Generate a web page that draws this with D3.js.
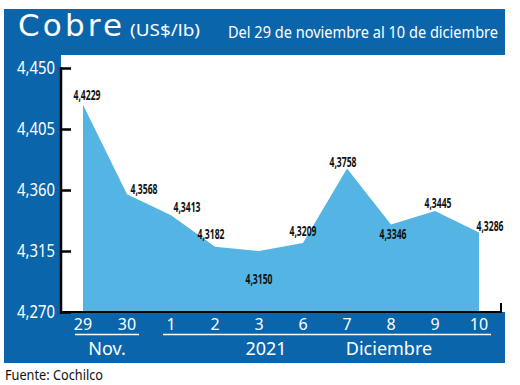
<!DOCTYPE html>
<html>
<head>
<meta charset="utf-8">
<script src="https://cdn.jsdelivr.net/npm/d3@7"></script>
<style>
  body { margin: 0; background: #fff; }
  svg { display: block; }
  text { font-family: "Noto Sans", "Open Sans", sans-serif; }
</style>
</head>
<body>
<div id="chart"></div>
<script>
// data
var days = ["29", "30", "1", "2", "3", "6", "7", "8", "9", "10"];
var prices = [4.4229, 4.3568, 4.3413, 4.3182, 4.3150, 4.3209, 4.3758, 4.3346, 4.3445, 4.3286];
var priceLabels = ["4,4229", "4,3568", "4,3413", "4,3182", "4,3150", "4,3209", "4,3758", "4,3346", "4,3445", "4,3286"];
var yTicks = [4.270, 4.315, 4.360, 4.405, 4.450];
var yTickLabels = ["4,270", "4,315", "4,360", "4,405", "4,450"];
var months = [
    { name: "Nov.", from: "29", to: "30" },
    { name: "2021", from: "1", to: "10" }
];

// where each value label sits relative to its point [dx, dy]
var labelOffsets = [[4, -5], [17, 0], [16, -3], [-4, -8], [0, 33], [0, -7], [-4, -2], [2, 15], [3, -3], [11, -2]];

var W = 520, H = 385;
var blue = "#0b65ab", fillBlue = "#54b4e3";

var svg = d3.select("#chart").append("svg")
    .attr("width", W)
    .attr("height", H);

// frame
svg.append("rect")
    .attr("x", 4).attr("y", 9)
    .attr("width", 501).attr("height", 354)
    .attr("fill", blue);

svg.append("rect")
    .attr("x", 61).attr("y", 55)
    .attr("width", 459).attr("height", 257)
    .attr("fill", "#fff");

var x = d3.scalePoint()
    .domain(days)
    .range([83, 479]);

var y = d3.scaleLinear()
    .domain([4.27, 4.45])
    .range([312, 68]);

var area = d3.area()
    .x(function(d, i) { return x(days[i]); })
    .y0(y(4.27))
    .y1(function(d) { return y(d); });

svg.append("path")
    .datum(prices)
    .attr("fill", fillBlue)
    .attr("d", area);

// y axis
var yAxis = svg.append("g")
    .attr("transform", "translate(61,0)")
    .call(d3.axisRight(y).tickValues(yTicks).tickSize(10).tickSizeOuter(0).tickFormat(""));
yAxis.select(".domain").remove();
yAxis.selectAll("line").attr("stroke", "#000").attr("stroke-width", 2.5);

svg.append("line")
    .attr("x1", 61).attr("x2", 61)
    .attr("y1", y(4.45) - 1).attr("y2", y(4.27) + 2)
    .attr("stroke", "#000").attr("stroke-width", 2.5);

svg.selectAll(".ylab")
    .data(yTicks)
    .enter().append("text")
    .attr("class", "ylab")
    .attr("x", 55)
    .attr("y", function(d) { return y(d) + 6; })
    .attr("text-anchor", "end")
    .attr("fill", "#fff")
    .attr("font-size", 18)
    .attr("textLength", 38)
    .attr("lengthAdjust", "spacingAndGlyphs")
    .text(function(d, i) { return yTickLabels[i]; });

// x axis line
svg.append("path")
    .attr("d", "M61," + y(4.27) + "H501V" + (y(4.27) - 9))
    .attr("fill", "none")
    .attr("stroke", "#000")
    .attr("stroke-width", 2);

// value labels
svg.selectAll(".vlab")
    .data(prices)
    .enter().append("text")
    .attr("class", "vlab")
    .attr("x", function(d, i) { return x(days[i]) + labelOffsets[i][0]; })
    .attr("y", function(d, i) { return y(d) + labelOffsets[i][1]; })
    .attr("text-anchor", "middle")
    .attr("font-size", 14)
    .attr("font-weight", "bold")
    .attr("textLength", 27)
    .attr("lengthAdjust", "spacingAndGlyphs")
    .attr("fill", "#111")
    .text(function(d, i) { return priceLabels[i]; });

// day labels
svg.selectAll(".day")
    .data(days)
    .enter().append("text")
    .attr("class", "day")
    .attr("x", function(d) { return x(d); })
    .attr("y", 330)
    .attr("text-anchor", "middle")
    .attr("fill", "#fff")
    .attr("font-size", 16)
    .text(function(d) { return d; });

// month underlines
svg.selectAll(".mline")
    .data(months)
    .enter().append("line")
    .attr("x1", function(d) { return x(d.from) - 8; })
    .attr("x2", function(d) { return x(d.to) + 12; })
    .attr("y1", 334.5).attr("y2", 334.5)
    .attr("stroke", "#fff")
    .attr("stroke-width", 1.5);

svg.append("text")
    .attr("x", 107).attr("y", 355)
    .attr("text-anchor", "middle")
    .attr("fill", "#fff").attr("font-size", 18)
    .text("Nov.");

svg.append("text")
    .attr("x", 266).attr("y", 355)
    .attr("text-anchor", "middle")
    .attr("fill", "#fff").attr("font-size", 18)
    .text("2021");

svg.append("text")
    .attr("x", 389).attr("y", 355)
    .attr("text-anchor", "middle")
    .attr("fill", "#fff").attr("font-size", 18)
    .text("Diciembre");

// header
svg.append("text")
    .attr("x", 18).attr("y", 36)
    .attr("fill", "#fff")
    .style("font-family", "'DejaVu Sans', sans-serif")
    .style("font-size", "31px")
    .attr("textLength", 104)
    .attr("lengthAdjust", "spacing")
    .text("Cobre");

svg.append("text")
    .attr("x", 130).attr("y", 36)
    .attr("fill", "#fff")
    .attr("font-size", 17)
    .attr("textLength", 70)
    .attr("lengthAdjust", "spacingAndGlyphs")
    .text("(US$/lb)");

svg.append("text")
    .attr("x", 228).attr("y", 38)
    .attr("fill", "#fff")
    .attr("font-size", 15.5)
    .attr("textLength", 270)
    .attr("lengthAdjust", "spacingAndGlyphs")
    .text("Del 29 de noviembre al 10 de diciembre");

svg.append("text")
    .attr("x", 5).attr("y", 380)
    .attr("fill", "#111")
    .attr("font-size", 14)
    .attr("textLength", 98)
    .attr("lengthAdjust", "spacingAndGlyphs")
    .text("Fuente: Cochilco");
</script>
</body>
</html>
